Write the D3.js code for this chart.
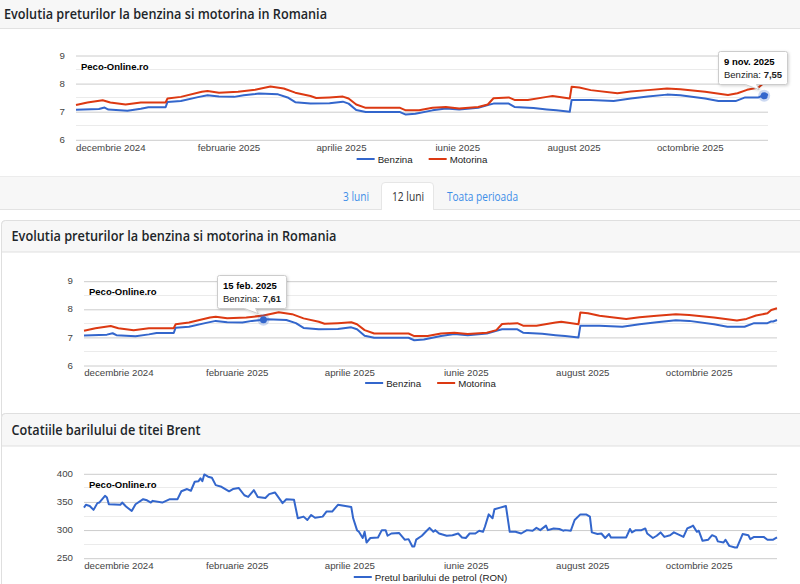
<!DOCTYPE html>
<html>
<head>
<meta charset="utf-8">
<script src="https://cdn.jsdelivr.net/npm/d3@7"></script>
<style>
    html, body { margin: 0; padding: 0; background: #fff; overflow: hidden; }
    svg { display: block; }
</style>
</head>
<body>
<div id="page"></div>
<script>
// ---- data ----
const monthTicks = ["2024-12-01", "2025-02-01", "2025-04-01", "2025-06-01", "2025-08-01", "2025-10-01"];
const monthLabels = ["decembrie 2024", "februarie 2025", "aprilie 2025", "iunie 2025", "august 2025", "octombrie 2025"];
const dateDomain = ["2024-11-13", "2025-11-11"];

const benzina = [
    ["2024-11-13", 7.05], ["2024-11-25", 7.08], ["2024-11-28", 7.13], ["2024-11-30", 7.06],
    ["2024-12-10", 7.02], ["2024-12-17", 7.09], ["2024-12-21", 7.14], ["2024-12-30", 7.14],
    ["2024-12-31", 7.33], ["2025-01-07", 7.36], ["2025-01-16", 7.50], ["2025-01-21", 7.57],
    ["2025-01-27", 7.52], ["2025-02-04", 7.51], ["2025-02-09", 7.57], ["2025-02-15", 7.61],
    ["2025-02-17", 7.63], ["2025-02-27", 7.60], ["2025-03-04", 7.49], ["2025-03-08", 7.32],
    ["2025-03-16", 7.27], ["2025-03-26", 7.28], ["2025-04-02", 7.34], ["2025-04-05", 7.27],
    ["2025-04-09", 7.04], ["2025-04-14", 6.97], ["2025-05-02", 6.97], ["2025-05-05", 6.88],
    ["2025-05-10", 6.91], ["2025-05-19", 7.03], ["2025-05-26", 7.10], ["2025-06-02", 7.06],
    ["2025-06-12", 7.12], ["2025-06-17", 7.22], ["2025-06-20", 7.27], ["2025-06-28", 7.27],
    ["2025-07-01", 7.15], ["2025-07-11", 7.11], ["2025-07-18", 7.06], ["2025-07-23", 7.03],
    ["2025-07-30", 6.98], ["2025-07-31", 7.40], ["2025-08-10", 7.40], ["2025-08-22", 7.36],
    ["2025-08-31", 7.45], ["2025-09-09", 7.52], ["2025-09-19", 7.59], ["2025-09-26", 7.57],
    ["2025-10-09", 7.45], ["2025-10-16", 7.36], ["2025-10-25", 7.36], ["2025-10-30", 7.49],
    ["2025-11-06", 7.49], ["2025-11-08", 7.55], ["2025-11-09", 7.55], ["2025-11-11", 7.60]
];

const motorina = [
    ["2024-11-13", 7.22], ["2024-11-19", 7.31], ["2024-11-27", 7.39], ["2024-12-01", 7.31],
    ["2024-12-09", 7.24], ["2024-12-17", 7.31], ["2024-12-30", 7.31], ["2024-12-31", 7.45],
    ["2025-01-07", 7.51], ["2025-01-18", 7.69], ["2025-01-21", 7.72], ["2025-01-27", 7.66],
    ["2025-02-06", 7.69], ["2025-02-15", 7.76], ["2025-02-23", 7.88], ["2025-03-02", 7.81],
    ["2025-03-08", 7.66], ["2025-03-16", 7.54], ["2025-03-19", 7.47], ["2025-03-26", 7.49],
    ["2025-04-02", 7.52], ["2025-04-05", 7.45], ["2025-04-09", 7.24], ["2025-04-14", 7.12],
    ["2025-05-02", 7.12], ["2025-05-05", 7.03], ["2025-05-12", 7.03], ["2025-05-19", 7.12],
    ["2025-05-26", 7.15], ["2025-06-02", 7.10], ["2025-06-12", 7.15], ["2025-06-17", 7.24],
    ["2025-06-20", 7.46], ["2025-06-28", 7.49], ["2025-07-01", 7.40], ["2025-07-08", 7.40],
    ["2025-07-18", 7.51], ["2025-07-21", 7.54], ["2025-07-30", 7.45], ["2025-07-31", 7.87],
    ["2025-08-04", 7.84], ["2025-08-10", 7.75], ["2025-08-24", 7.64], ["2025-08-31", 7.70],
    ["2025-09-09", 7.75], ["2025-09-19", 7.81], ["2025-09-26", 7.78], ["2025-10-09", 7.69],
    ["2025-10-21", 7.58], ["2025-10-26", 7.64], ["2025-10-31", 7.76], ["2025-11-06", 7.84],
    ["2025-11-08", 7.96], ["2025-11-11", 8.02]
];

const brent = [
    ["2024-11-13", 339], ["2024-11-14", 344], ["2024-11-16", 342], ["2024-11-18", 335],
    ["2024-11-20", 347], ["2024-11-21", 348], ["2024-11-24", 360], ["2024-11-25", 357],
    ["2024-11-26", 345], ["2024-12-02", 344], ["2024-12-03", 348], ["2024-12-05", 341],
    ["2024-12-08", 333], ["2024-12-10", 345], ["2024-12-14", 354], ["2024-12-16", 352],
    ["2024-12-18", 348], ["2024-12-19", 351], ["2024-12-24", 348], ["2024-12-28", 354],
    ["2025-01-01", 354], ["2025-01-03", 368], ["2025-01-06", 372], ["2025-01-08", 369],
    ["2025-01-10", 385], ["2025-01-12", 386], ["2025-01-13", 391], ["2025-01-14", 386],
    ["2025-01-15", 398], ["2025-01-17", 394], ["2025-01-19", 392], ["2025-01-21", 379],
    ["2025-01-24", 376], ["2025-01-28", 368], ["2025-01-30", 372], ["2025-02-02", 374],
    ["2025-02-05", 361], ["2025-02-07", 358], ["2025-02-10", 370], ["2025-02-12", 358],
    ["2025-02-16", 356], ["2025-02-18", 363], ["2025-02-21", 366], ["2025-02-24", 352],
    ["2025-02-25", 347], ["2025-02-27", 354], ["2025-03-03", 353], ["2025-03-05", 320],
    ["2025-03-08", 323], ["2025-03-10", 317], ["2025-03-12", 326], ["2025-03-14", 321],
    ["2025-03-18", 323], ["2025-03-20", 332], ["2025-03-23", 332], ["2025-03-26", 344],
    ["2025-04-02", 340], ["2025-04-03", 320], ["2025-04-05", 299], ["2025-04-06", 296],
    ["2025-04-08", 285], ["2025-04-09", 296], ["2025-04-10", 277], ["2025-04-12", 285],
    ["2025-04-16", 286], ["2025-04-18", 299], ["2025-04-20", 299], ["2025-04-21", 289],
    ["2025-04-23", 293], ["2025-04-27", 294], ["2025-04-30", 282], ["2025-05-02", 283],
    ["2025-05-04", 270], ["2025-05-05", 270], ["2025-05-06", 282], ["2025-05-09", 289],
    ["2025-05-11", 296], ["2025-05-13", 303], ["2025-05-15", 296], ["2025-05-16", 299],
    ["2025-05-18", 293], ["2025-05-22", 289], ["2025-05-25", 290], ["2025-05-28", 293],
    ["2025-05-30", 286], ["2025-06-01", 285], ["2025-06-03", 293], ["2025-06-06", 293],
    ["2025-06-08", 298], ["2025-06-10", 296], ["2025-06-11", 305], ["2025-06-13", 327],
    ["2025-06-15", 320], ["2025-06-16", 336], ["2025-06-19", 339], ["2025-06-22", 342],
    ["2025-06-24", 296], ["2025-06-27", 296], ["2025-06-30", 293], ["2025-07-03", 299],
    ["2025-07-06", 298], ["2025-07-08", 303], ["2025-07-10", 299], ["2025-07-13", 307],
    ["2025-07-14", 299], ["2025-07-17", 302], ["2025-07-20", 301], ["2025-07-22", 298],
    ["2025-07-23", 299], ["2025-07-26", 298], ["2025-07-28", 317], ["2025-07-31", 327],
    ["2025-08-03", 327], ["2025-08-05", 323], ["2025-08-06", 295], ["2025-08-09", 292],
    ["2025-08-11", 293], ["2025-08-13", 285], ["2025-08-15", 292], ["2025-08-16", 286],
    ["2025-08-21", 286], ["2025-08-24", 286], ["2025-08-26", 301], ["2025-08-27", 295],
    ["2025-08-29", 299], ["2025-09-01", 299], ["2025-09-03", 302], ["2025-09-04", 293],
    ["2025-09-07", 285], ["2025-09-09", 289], ["2025-09-11", 295], ["2025-09-13", 287],
    ["2025-09-16", 290], ["2025-09-18", 295], ["2025-09-23", 287], ["2025-09-25", 302],
    ["2025-09-27", 305], ["2025-09-28", 307], ["2025-09-30", 296], ["2025-10-01", 298],
    ["2025-10-03", 280], ["2025-10-06", 282], ["2025-10-08", 290], ["2025-10-10", 287],
    ["2025-10-11", 279], ["2025-10-14", 277], ["2025-10-15", 282], ["2025-10-17", 271],
    ["2025-10-20", 268], ["2025-10-21", 268], ["2025-10-22", 276], ["2025-10-24", 292],
    ["2025-10-27", 290], ["2025-10-28", 283], ["2025-10-30", 287], ["2025-11-02", 287],
    ["2025-11-04", 287], ["2025-11-06", 282], ["2025-11-09", 282], ["2025-11-11", 286]
];

const fuelTicks = [6, 7, 8, 9];
const fuelMinorTicks = [6.5, 7.5, 8.5];
const brentTicks = [250, 300, 350, 400];
const brentMinorTicks = [275, 325, 375];

const tabLabels = ["3 luni", "12 luni", "Toata perioada"];
const panelTitles = [
    "Evolutia preturilor la benzina si motorina in Romania",
    "Evolutia preturilor la benzina si motorina in Romania",
    "Cotatiile barilului de titei Brent"
];
const watermark = "Peco-Online.ro";
const monthShort = ["ian", "feb", "mar", "apr", "mai", "iun", "iul", "aug", "sep", "oct", "nov", "dec"];

const BLUE = "#3366cc", RED = "#dc3912";
const AXIS_FONT = "'Liberation Sans', Arial, sans-serif";
const TITLE_FONT = "'Open Sans', 'Noto Sans', sans-serif";

const parse = d3.timeParse("%Y-%m-%d");
const fmtVal = v => d3.format(".2f")(v).replace(".", ",");

const svg = d3.select("#page").append("svg")
    .attr("width", 800)
    .attr("height", 584);

const defs = svg.append("defs");
defs.append("filter")
    .attr("id", "tipShadow")
    .attr("x", "-20%").attr("y", "-20%").attr("width", "150%").attr("height", "160%")
    .append("feDropShadow")
    .attr("dx", 1).attr("dy", 1).attr("stdDeviation", 1.5)
    .attr("flood-color", "#000").attr("flood-opacity", 0.18);

// ---- card frames ----
function cardHeader(y0, y1, title, tx, tw, rounded) {
    if (rounded) {
        svg.append("rect")
            .attr("x", 1.5).attr("y", y0 + 0.5)
            .attr("width", 810).attr("height", 400)
            .attr("rx", 4)
            .attr("fill", "#fff")
            .attr("stroke", "#dfdfdf");
        svg.append("path")
            .attr("d", `M1.5,${y1} V${y0 + 4.5} Q1.5,${y0 + 0.5} 5.5,${y0 + 0.5} H812 V${y1} Z`)
            .attr("fill", "#f7f7f7")
            .attr("stroke", "#dfdfdf");
    } else {
        svg.append("rect")
            .attr("x", -10).attr("y", y0 - 10)
            .attr("width", 820).attr("height", y1 - y0 + 10)
            .attr("fill", "#f7f7f7");
        svg.append("line")
            .attr("x1", 0).attr("x2", 800)
            .attr("y1", y1 + 0.5).attr("y2", y1 + 0.5)
            .attr("stroke", "#e2e2e2");
    }
    svg.append("text")
        .attr("x", tx)
        .attr("y", (y0 + y1) / 2 + 5)
        .attr("textLength", tw)
        .attr("lengthAdjust", "spacingAndGlyphs")
        .style("font-family", TITLE_FONT)
        .style("font-weight", 600)
        .style("font-size", "14px")
        .style("fill", "#212529")
        .text(title);
}

cardHeader(0, 28, panelTitles[0], 4, 323, false);

// ---- tabs band ----
svg.append("rect")
    .attr("x", 0).attr("y", 177)
    .attr("width", 800).attr("height", 32)
    .attr("fill", "#f7f7f7");
svg.append("line")
    .attr("x1", 0).attr("x2", 800).attr("y1", 176.5).attr("y2", 176.5)
    .attr("stroke", "#ececec");
svg.append("line")
    .attr("x1", 0).attr("x2", 800).attr("y1", 209.5).attr("y2", 209.5)
    .attr("stroke", "#e3e3e3");
svg.append("path")
    .attr("d", "M381.5,210 V186 Q381.5,182.5 385,182.5 H430 Q433.5,182.5 433.5,186 V210")
    .attr("fill", "#fff")
    .attr("stroke", "#e6e6e6");

const tabX = [343, 392, 447];
const tabW = [26, 32, 71];
svg.selectAll(".tab")
    .data(tabLabels)
    .join("text")
    .attr("class", "tab")
    .attr("x", (d, i) => tabX[i])
    .attr("y", 201)
    .attr("textLength", (d, i) => tabW[i])
    .attr("lengthAdjust", "spacingAndGlyphs")
    .style("font-family", TITLE_FONT)
    .style("font-size", "12px")
    .style("fill", (d, i) => i === 1 ? "#333" : "#3d8ee8")
    .text(d => d);

cardHeader(220, 252, panelTitles[1], 11.5, 325, true);
cardHeader(413, 446, panelTitles[2], 11.5, 189, true);

// ---- chart drawing ----
function drawChart(cfg) {
    const g = svg.append("g");

    const x = d3.scaleTime()
        .domain(dateDomain.map(parse))
        .range([cfg.left, cfg.right]);

    const y = d3.scaleLinear()
        .domain(cfg.yDomain)
        .range([cfg.bottom, cfg.top]);

    // minor grid
    g.selectAll(".minor")
        .data(cfg.minorTicks)
        .join("line")
        .attr("x1", cfg.left).attr("x2", cfg.right)
        .attr("y1", d => Math.round(y(d)) + 0.5)
        .attr("y2", d => Math.round(y(d)) + 0.5)
        .attr("stroke", "#ebebeb");

    // y axis with major grid
    const yAxis = g.append("g")
        .attr("transform", `translate(${cfg.left},0)`)
        .call(d3.axisLeft(y).tickValues(cfg.ticks).tickFormat(d3.format("d")).tickSize(0).tickPadding(11));
    yAxis.select(".domain").remove();
    yAxis.selectAll(".tick text")
        .style("font-family", AXIS_FONT)
        .style("font-size", "9.7px")
        .style("fill", "#444");
    yAxis.selectAll(".tick").append("line")
        .attr("x1", 0).attr("x2", cfg.right - cfg.left)
        .attr("y1", 0.5).attr("y2", 0.5)
        .attr("stroke", "#cccccc");

    // x axis labels
    const xAxis = g.append("g")
        .attr("transform", `translate(0,${cfg.bottom})`)
        .call(d3.axisBottom(x)
            .tickValues(monthTicks.map(parse))
            .tickFormat((d, i) => monthLabels[i])
            .tickSize(0)
            .tickPadding(4.5));
    xAxis.select(".domain").remove();
    xAxis.selectAll(".tick text")
        .style("font-family", AXIS_FONT)
        .style("font-size", "9.7px")
        .style("fill", "#444");

    // watermark
    g.append("text")
        .attr("x", cfg.left + 5)
        .attr("y", cfg.top + 14.5)
        .style("font-family", AXIS_FONT)
        .style("font-weight", "bold")
        .style("font-size", "9.5px")
        .style("fill", "#000")
        .text(watermark);

    const line = d3.line()
        .x(d => x(parse(d[0])))
        .y(d => y(d[1]));

    cfg.series.forEach(s => {
        g.append("path")
            .datum(s.data)
            .attr("fill", "none")
            .attr("stroke", s.color)
            .attr("stroke-width", 2)
            .attr("stroke-linejoin", "round")
            .attr("d", line);
    });

    // legend, centred under the plot
    const leg = g.append("g");
    let lx = 0;
    cfg.series.forEach(s => {
        const item = leg.append("g").attr("transform", `translate(${lx},0)`);
        item.append("line")
            .attr("x1", 0).attr("x2", 18)
            .attr("y1", 0).attr("y2", 0)
            .attr("stroke", s.color)
            .attr("stroke-width", 2);
        const t = item.append("text")
            .attr("x", 21)
            .attr("y", 3.5)
            .style("font-family", AXIS_FONT)
            .style("font-size", "9.7px")
            .style("fill", "#222")
            .text(s.name);
        lx += 21 + t.node().getComputedTextLength() + 16;
    });
    const legW = lx - 16;
    leg.attr("transform", `translate(${(cfg.left + cfg.right) / 2 - legW / 2},${cfg.legendY})`);

    // tooltip on a point
    if (cfg.tip) {
        const s = cfg.series[0];
        const pt = s.data.find(d => d[0] === cfg.tip);
        const px = x(parse(pt[0])), py = y(pt[1]);

        g.append("circle")
            .attr("cx", px).attr("cy", py).attr("r", 6)
            .attr("fill", s.color).attr("fill-opacity", 0.25);
        g.append("circle")
            .attr("cx", px).attr("cy", py).attr("r", 3.5)
            .attr("fill", s.color);

        const bx = Math.round(px - 46) + 0.5, by = Math.round(py - 45) + 0.5;
        const bw = 69, bh = 33;
        const tip = g.append("g");
        tip.append("path")
            .attr("d", `M${bx + 2},${by} H${bx + bw - 2} Q${bx + bw},${by} ${bx + bw},${by + 2}` +
                ` V${by + bh - 2} Q${bx + bw},${by + bh} ${bx + bw - 2},${by + bh}` +
                ` H${bx + 38} L${px - 5},${py - 6} L${bx + 27},${by + bh}` +
                ` H${bx + 2} Q${bx},${by + bh} ${bx},${by + bh - 2} V${by + 2} Q${bx},${by} ${bx + 2},${by} Z`)
            .attr("fill", "#fff")
            .attr("stroke", "#cccccc")
            .attr("filter", "url(#tipShadow)");
        const d0 = parse(pt[0]);
        const label = d0.getDate() + " " + monthShort[d0.getMonth()] + ". " + d0.getFullYear();
        tip.append("text")
            .attr("x", bx + 5.5).attr("y", by + 13)
            .style("font-family", AXIS_FONT)
            .style("font-weight", "bold")
            .style("font-size", "9.5px")
            .style("fill", "#000")
            .text(label);
        const t2 = tip.append("text")
            .attr("x", bx + 5.5).attr("y", by + 26.5)
            .style("font-family", AXIS_FONT)
            .style("font-size", "9.5px")
            .style("fill", "#222");
        t2.append("tspan").text(s.name + ": ");
        t2.append("tspan").style("font-weight", "bold").text(fmtVal(pt[1]));
    }
}

const fuelSeries = [
    {name: "Benzina", color: BLUE, data: benzina},
    {name: "Motorina", color: RED, data: motorina}
];

drawChart({
    left: 76, right: 768, top: 55, bottom: 139.3,
    yDomain: [6, 9], ticks: fuelTicks, minorTicks: fuelMinorTicks,
    legendY: 159, series: fuelSeries, tip: "2025-11-09"
});

drawChart({
    left: 84, right: 777, top: 280.7, bottom: 365,
    yDomain: [6, 9], ticks: fuelTicks, minorTicks: fuelMinorTicks,
    legendY: 383, series: fuelSeries, tip: "2025-02-15"
});

drawChart({
    left: 84, right: 777, top: 473.3, bottom: 557.7,
    yDomain: [250, 400], ticks: brentTicks, minorTicks: brentMinorTicks,
    legendY: 577,
    series: [{name: "Pretul barilului de petrol (RON)", color: BLUE, data: brent}]
});
</script>
</body>
</html>
